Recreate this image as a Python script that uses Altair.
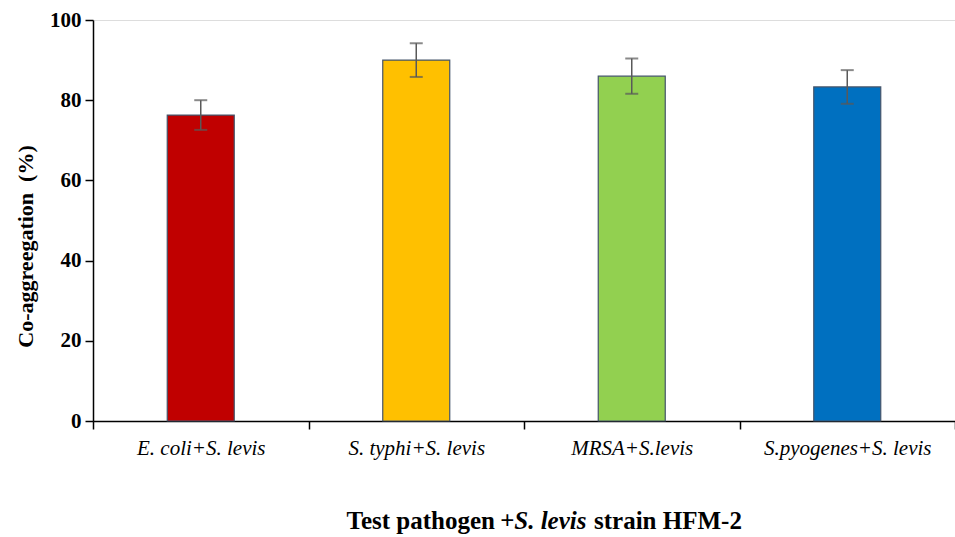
import altair as alt
import pandas as pd

categories = ["E. coli+S. levis", "S. typhi+S. levis", "MRSA+S.levis", "S.pyogenes+S. levis"]
values = [76.3, 90.0, 86.0, 83.3]
errors = [3.7, 4.2, 4.4, 4.2]
colors = ["#C00000", "#FFC000", "#92D050", "#0070C0"]

df = pd.DataFrame({
    "cat": categories,
    "val": values,
    "lo": [v - e for v, e in zip(values, errors)],
    "hi": [v + e for v, e in zip(values, errors)],
})

W, H = 862, 401
FONT = "Liberation Serif"

x = alt.X("cat:N", sort=categories, title=None,
          scale=alt.Scale(paddingInner=0, paddingOuter=0),
          axis=alt.Axis(labelAngle=0, labelFont=FONT, labelFontStyle="italic",
                        labelFontSize=21, labelColor="black", labelPadding=8,
                        domainColor="black", domainWidth=1.5, tickColor="black",
                        tickWidth=1.5, tickSize=8, tickBand="extent"))

y = alt.Y("val:Q", title="Co-aggreegation\u00a0\u00a0(%)",
          scale=alt.Scale(domain=[0, 100], nice=False),
          axis=alt.Axis(values=[0, 20, 40, 60, 80, 100], grid=False,
                        labelFont=FONT, labelFontWeight="bold", labelFontSize=21,
                        labelColor="black", labelPadding=4,
                        titleFont=FONT, titleFontWeight="bold", titleFontSize=22,
                        titleColor="black", titlePadding=12, titleY=226,
                        domainColor="black", domainWidth=1.5, tickColor="black",
                        tickWidth=1.5, tickSize=8))

bars = alt.Chart(df).mark_bar(size=67, stroke="#44546A", strokeWidth=1.2).encode(
    x=x, y=y,
    color=alt.Color("cat:N", sort=categories,
                    scale=alt.Scale(domain=categories, range=colors), legend=None),
)

rules = alt.Chart(df).mark_rule(color="#595959", strokeWidth=1.5).encode(
    x=alt.X("cat:N", sort=categories), y="lo:Q", y2="hi:Q")
caps_hi = alt.Chart(df).mark_tick(color="#595959", size=13, thickness=2).encode(
    x=alt.X("cat:N", sort=categories), y="hi:Q")
caps_lo = alt.Chart(df).mark_tick(color="#595959", size=13, thickness=2).encode(
    x=alt.X("cat:N", sort=categories), y="lo:Q")

title_df = pd.DataFrame({"a": ["Test pathogen"], "b": ["+S. levis"], "c": ["strain HFM-2"]})
ty = H + 108
t1 = alt.Chart(title_df).mark_text(font=FONT, fontWeight="bold", fontSize=25,
                                   align="right", baseline="alphabetic", color="black").encode(
    text="a:N", x=alt.value(402), y=alt.value(ty))
t2 = alt.Chart(title_df).mark_text(font=FONT, fontWeight="bold", fontStyle="italic",
                                   fontSize=25, align="left", baseline="alphabetic",
                                   color="black").encode(
    text="b:N", x=alt.value(407), y=alt.value(ty))
t3 = alt.Chart(title_df).mark_text(font=FONT, fontWeight="bold", fontSize=25,
                                   align="left", baseline="alphabetic", color="black").encode(
    text="c:N", x=alt.value(501), y=alt.value(ty))

chart = alt.layer(bars, rules, caps_hi, caps_lo, t1, t2, t3).properties(
    width=W, height=H,
    padding={"left": 93, "top": 20, "right": 0, "bottom": 114},
    autosize=alt.AutoSizeParams(type="none"),
).configure_view(strokeWidth=0).configure(background="white")

chart.save("out.html", embed_options={"renderer": "svg", "actions": False})
